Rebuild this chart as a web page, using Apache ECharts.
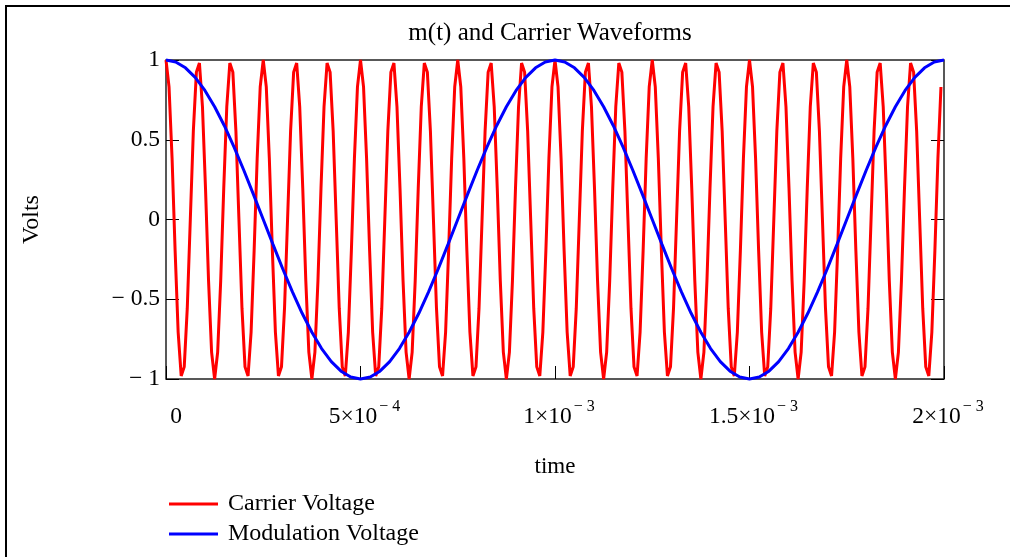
<!DOCTYPE html>
<html>
<head>
<meta charset="utf-8">
<script src="https://cdn.jsdelivr.net/npm/echarts@6/dist/echarts.min.js"></script>
<style>
html,body{margin:0;padding:0;background:#fff;}
#chart{width:1010px;height:557px;}
</style>
</head>
<body>
<div id="chart"></div>
<script>
// ---- data ----
const titleText = 'm(t) and Carrier Waveforms';
const xName = 'time';
const yName = 'Volts';
const seriesNames = ['Carrier Voltage', 'Modulation Voltage'];

// carrier samples (256 samples, one every 2e-3/256 s, starting at t = 0)
const carrierStep = 2e-3 / 256;
const carrierVolts = [
1, 0.831, 0.383, -0.195, -0.707, -0.981, -0.924, -0.556, 0, 0.556, 0.924, 0.981, 0.707, 0.195, -0.383, -0.831,
-1, -0.831, -0.383, 0.195, 0.707, 0.981, 0.924, 0.556, 0, -0.556, -0.924, -0.981, -0.707, -0.195, 0.383, 0.831,
1, 0.831, 0.383, -0.195, -0.707, -0.981, -0.924, -0.556, 0, 0.556, 0.924, 0.981, 0.707, 0.195, -0.383, -0.831,
-1, -0.831, -0.383, 0.195, 0.707, 0.981, 0.924, 0.556, 0, -0.556, -0.924, -0.981, -0.707, -0.195, 0.383, 0.831,
1, 0.831, 0.383, -0.195, -0.707, -0.981, -0.924, -0.556, 0, 0.556, 0.924, 0.981, 0.707, 0.195, -0.383, -0.831,
-1, -0.831, -0.383, 0.195, 0.707, 0.981, 0.924, 0.556, 0, -0.556, -0.924, -0.981, -0.707, -0.195, 0.383, 0.831,
1, 0.831, 0.383, -0.195, -0.707, -0.981, -0.924, -0.556, 0, 0.556, 0.924, 0.981, 0.707, 0.195, -0.383, -0.831,
-1, -0.831, -0.383, 0.195, 0.707, 0.981, 0.924, 0.556, 0, -0.556, -0.924, -0.981, -0.707, -0.195, 0.383, 0.831,
1, 0.831, 0.383, -0.195, -0.707, -0.981, -0.924, -0.556, 0, 0.556, 0.924, 0.981, 0.707, 0.195, -0.383, -0.831,
-1, -0.831, -0.383, 0.195, 0.707, 0.981, 0.924, 0.556, 0, -0.556, -0.924, -0.981, -0.707, -0.195, 0.383, 0.831,
1, 0.831, 0.383, -0.195, -0.707, -0.981, -0.924, -0.556, 0, 0.556, 0.924, 0.981, 0.707, 0.195, -0.383, -0.831,
-1, -0.831, -0.383, 0.195, 0.707, 0.981, 0.924, 0.556, 0, -0.556, -0.924, -0.981, -0.707, -0.195, 0.383, 0.831,
1, 0.831, 0.383, -0.195, -0.707, -0.981, -0.924, -0.556, 0, 0.556, 0.924, 0.981, 0.707, 0.195, -0.383, -0.831,
-1, -0.831, -0.383, 0.195, 0.707, 0.981, 0.924, 0.556, 0, -0.556, -0.924, -0.981, -0.707, -0.195, 0.383, 0.831,
1, 0.831, 0.383, -0.195, -0.707, -0.981, -0.924, -0.556, 0, 0.556, 0.924, 0.981, 0.707, 0.195, -0.383, -0.831,
-1, -0.831, -0.383, 0.195, 0.707, 0.981, 0.924, 0.556, 0, -0.556, -0.924, -0.981, -0.707, -0.195, 0.383, 0.831
];

// modulation samples (one every 2.5e-5 s, starting at t = 0)
const modulationStep = 2.5e-5;
const modulationVolts = [
1, 0.988, 0.951, 0.891, 0.809, 0.707, 0.588, 0.454, 0.309, 0.156,
0, -0.156, -0.309, -0.454, -0.588, -0.707, -0.809, -0.891, -0.951, -0.988,
-1, -0.988, -0.951, -0.891, -0.809, -0.707, -0.588, -0.454, -0.309, -0.156,
0, 0.156, 0.309, 0.454, 0.588, 0.707, 0.809, 0.891, 0.951, 0.988,
1, 0.988, 0.951, 0.891, 0.809, 0.707, 0.588, 0.454, 0.309, 0.156,
0, -0.156, -0.309, -0.454, -0.588, -0.707, -0.809, -0.891, -0.951, -0.988,
-1, -0.988, -0.951, -0.891, -0.809, -0.707, -0.588, -0.454, -0.309, -0.156,
0, 0.156, 0.309, 0.454, 0.588, 0.707, 0.809, 0.891, 0.951, 0.988,
1
];

// tick labels
const xTickValues = [0, 5e-4, 1e-3, 1.5e-3, 2e-3];
const xTickBase = ['0', '5×10', '1×10', '1.5×10', '2×10'];
const xTickExp = ['', '− 4', '− 3', '− 3', '− 3'];
const yTickValues = [-1, -0.5, 0, 0.5, 1];
const yTickLabels = ['− 1', '− 0.5', '0', '0.5', '1'];

// ---- chart ----
const FONT = "'Liberation Serif', 'Times New Roman', serif";
const carrierData = carrierVolts.map((v, i) => [i * carrierStep, v]);
const modulationData = modulationVolts.map((v, i) => [i * modulationStep, v]);

function xLabel(val) {
  for (let i = 0; i < xTickValues.length; i++) {
    if (Math.abs(val - xTickValues[i]) < 1e-9) {
      if (!xTickExp[i]) return '{z|' + xTickBase[i] + '}';
      return '{b|' + xTickBase[i] + '}{s|' + xTickExp[i] + '}';
    }
  }
  return '';
}
function yLabel(val) {
  for (let i = 0; i < yTickValues.length; i++) {
    if (Math.abs(val - yTickValues[i]) < 1e-9) return yTickLabels[i];
  }
  return '';
}

const chart = echarts.init(document.getElementById('chart'), null, {renderer: 'canvas'});
chart.setOption({
  animation: false,
  backgroundColor: '#ffffff',
  textStyle: {fontFamily: FONT},
  title: {
    text: titleText,
    left: 545,
    top: 16,
    textAlign: 'center',
    textStyle: {fontFamily: FONT, fontSize: 25, fontWeight: 'normal', color: '#000'}
  },
  graphic: [{
    type: 'rect',
    shape: {x: 6, y: 6, width: 1200, height: 800},
    style: {fill: 'none', stroke: '#000', lineWidth: 2},
    silent: true
  }],
  legend: {
    orient: 'vertical',
    left: 164,
    top: 487,
    icon: 'rect',
    itemWidth: 49,
    itemHeight: 3,
    itemGap: 6,
    data: seriesNames,
    textStyle: {fontFamily: FONT, fontSize: 24, color: '#000', lineHeight: 24, padding: [0, 0, 0, 5]}
  },
  grid: {
    left: 166, right: 66, top: 60, bottom: 178,
    show: true, borderColor: '#222', borderWidth: 1.5, backgroundColor: 'transparent'
  },
  xAxis: {
    type: 'value',
    min: 0, max: 2e-3, interval: 5e-4,
    name: xName,
    nameLocation: 'middle',
    nameGap: 76,
    nameTextStyle: {fontFamily: FONT, fontSize: 23, color: '#000'},
    axisLine: {show: false, onZero: false},
    axisTick: {show: true, inside: true, length: 13, lineStyle: {color: '#000', width: 1}},
    splitLine: {show: false},
    axisLabel: {
      margin: 23,
      formatter: xLabel,
      padding: [0, 0, 0, 8],
      color: '#000',
      rich: {
        z: {fontFamily: FONT, fontSize: 23.5, color: '#000', lineHeight: 24, padding: [6, 0, 0, 12]},
        b: {fontFamily: FONT, fontSize: 23.5, color: '#000', lineHeight: 24, padding: [6, 0, 0, 0]},
        s: {fontFamily: FONT, fontSize: 16, color: '#000', lineHeight: 16, padding: [0, 0, 14, 2]}
      }
    }
  },
  yAxis: [{
    type: 'value',
    min: -1, max: 1, interval: 0.5,
    name: yName,
    nameLocation: 'middle',
    nameRotate: 90,
    nameGap: 122,
    nameTextStyle: {fontFamily: FONT, fontSize: 24, color: '#000'},
    axisLine: {show: false, onZero: false},
    axisTick: {show: true, inside: true, length: 13, lineStyle: {color: '#000', width: 1}},
    splitLine: {show: false},
    axisLabel: {margin: 6, formatter: yLabel, fontFamily: FONT, fontSize: 23.5, color: '#000'}
  }, {
    type: 'value',
    position: 'right',
    min: -1, max: 1, interval: 0.5,
    axisLine: {show: false, onZero: false},
    axisTick: {show: true, inside: true, length: 13, lineStyle: {color: '#000', width: 1}},
    splitLine: {show: false},
    axisLabel: {show: false}
  }],
  series: [{
    name: seriesNames[0],
    type: 'line',
    data: carrierData,
    showSymbol: false,
    symbol: 'none',
    clip: false,
    lineStyle: {color: '#ff0000', width: 3},
    itemStyle: {color: '#ff0000'}
  }, {
    name: seriesNames[1],
    type: 'line',
    data: modulationData,
    showSymbol: false,
    symbol: 'none',
    clip: false,
    lineStyle: {color: '#0000ff', width: 3},
    itemStyle: {color: '#0000ff'}
  }]
});
</script>
</body>
</html>
